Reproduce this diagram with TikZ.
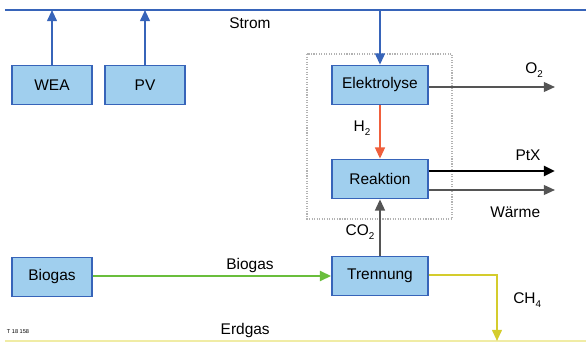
\documentclass[tikz,border=0pt]{standalone}
\usepackage{fontspec}
\setmainfont{Liberation Sans}
\definecolor{boxblue}{RGB}{160,207,238}
\definecolor{edgeblue}{RGB}{55,100,185}
\definecolor{gasgreen}{RGB}{105,190,60}
\definecolor{ch4yellow}{RGB}{212,204,45}
\definecolor{ngyellow}{RGB}{240,236,165}
\definecolor{h2red}{RGB}{240,95,60}
\definecolor{flowgray}{RGB}{85,85,85}
\colorlet{framegray}{flowgray!45}
\usetikzlibrary{positioning, arrows.meta}
\newcommand{\lowsub}[1]{\raisebox{-0.45ex}{\scriptsize #1}}

\begin{document}
\begin{tikzpicture}[
    unit/.style={draw=edgeblue, fill=boxblue, line width=1.2pt,
      minimum width=2.4cm, minimum height=0.975cm, inner sep=2pt,
      font=\fontsize{11}{13}\selectfont, align=center},
    lbl/.style={font=\fontsize{11}{13}\selectfont, text=black, inner sep=1pt},
    tip/.style={-{Triangle[length=8pt,width=7pt]}},
    node distance=0.3cm,
  ]
    \useasboundingbox (0,0) rectangle (14.65,-8.575);
    % busbars
    \coordinate (stromL) at (0.125,-0.25);
    \coordinate (stromR) at (14.65,-0.25);
    \coordinate (erdgasL) at (0.125,-8.525);
    \coordinate (erdgasR) at (14.65,-8.525);
    \draw[edgeblue, line width=1.4pt] (stromL) -- (stromR);
    \draw[ngyellow, line width=1.2pt] (erdgasL) -- (erdgasR);
    \node[lbl] (strom) at (6.25,-0.58) {Strom};
    \node[lbl] (erdgas) at (6.13,-8.27) {Erdgas};
    \node[font=\fontsize{4}{5}\selectfont, inner sep=0pt] (tag) at (0.45,-8.3) {T 18 158};

    % ptx plant
    \draw[framegray, densely dotted, line width=0.8pt] (7.675,-1.35) rectangle (11.3,-5.475);
    \node[unit, minimum width=2.0cm] (wea) at (1.3,-2.125) {WEA};
    \node[unit, minimum width=2.0cm] (pv) at (3.625,-2.125) {PV};
    \node[unit] (elektrolyse) at (9.5,-2.125) {Elektrolyse};
    \node[unit] (reaktion) at (9.5,-4.475) {Reaktion};
    \node[unit] (trennung) at (9.5,-6.9) {Trennung};
    \node[unit, minimum width=2.0cm] (biogas) at (1.3,-6.925) {Biogas};

    % connectors
    \draw[tip, edgeblue, line width=1.4pt] (wea.north) -- (wea.north |- stromL);
    \draw[tip, edgeblue, line width=1.4pt] (pv.north) -- (pv.north |- stromL);
    \draw[tip, edgeblue, line width=1.4pt] (elektrolyse.north |- stromL) -- (elektrolyse.north);
    \coordinate (o2end) at (13.875,-2.175);
    \coordinate (ptxend) at (13.875,-4.275);
    \coordinate (waermeend) at (13.875,-4.75);
    \coordinate (ch4corner) at (12.425,-6.875);
    \draw[tip, flowgray, line width=1.2pt] (elektrolyse.east |- o2end) -- (o2end);
    \draw[tip, h2red, line width=1.4pt] (elektrolyse.south) -- (reaktion.north);
    \draw[tip, black, line width=2pt] (reaktion.east |- ptxend) -- (ptxend);
    \draw[tip, flowgray, line width=1.2pt] (reaktion.east |- waermeend) -- (waermeend);
    \draw[tip, flowgray, line width=1.4pt] (trennung.north) -- (reaktion.south);
    \draw[tip, gasgreen, line width=1.8pt] (biogas.east |- trennung.west) -- (trennung.west);
    \draw[tip, ch4yellow, line width=1.4pt] (trennung.east |- ch4corner) -- (ch4corner) -- (ch4corner |- erdgasL);

    % flow labels
    \node[lbl] (o2) at (13.35,-1.75) {O\lowsub{2}};
    \node[lbl] (h2) at (9.05,-3.2) {H\lowsub{2}};
    \node[lbl] (ptx) at (13.2,-3.88) {PtX};
    \node[lbl] (waerme) at (12.88,-5.3) {Wärme};
    \node[lbl] (co2) at (9.0,-5.8) {CO\lowsub{2}};
    \node[lbl] (biogasflow) at (6.25,-6.65) {Biogas};
    \node[lbl] (ch4) at (13.18,-7.5) {CH\lowsub{4}};
  \end{tikzpicture}
\end{document}
